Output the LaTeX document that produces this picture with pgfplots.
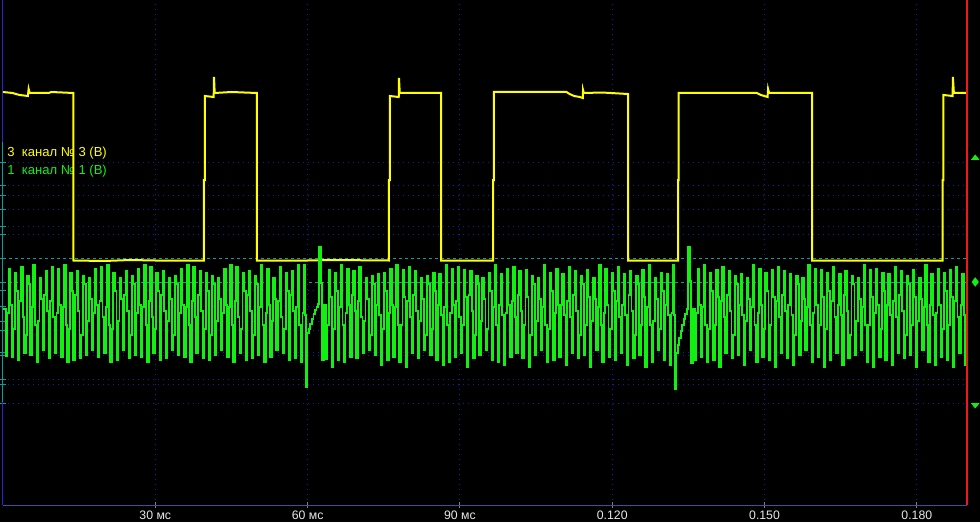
\documentclass[border=0pt]{standalone}
\usepackage{fontspec}
\setmainfont{Liberation Sans}
\usepackage{pgfplots}
\pgfplotsset{compat=1.18}
\definecolor{chthree}{HTML}{FFFF00}
\definecolor{chone}{HTML}{12F012}
\definecolor{griddot}{HTML}{1818B4}
\definecolor{zeroline}{HTML}{109A9A}
\definecolor{axblue}{HTML}{2424D8}
\definecolor{baseblue}{HTML}{4848A4}
\definecolor{cursor}{HTML}{F01818}
\definecolor{ticklbl}{HTML}{E8E8E8}
\begin{document}
\begin{tikzpicture}
\fill[black] (0,0) rectangle (735pt,391.5pt);
\begin{axis}[
  at={(2.25pt,12.75pt)}, anchor=south west,
  scale only axis, width=722.8pt, height=378.75pt,
  xmin=0, xmax=189.83, ymin=0, ymax=505,
  clip=false,
  axis x line*=bottom, axis y line*=left,
  x axis line style={baseblue, line width=0.75pt, -},
  y axis line style={axblue, line width=0.75pt, -},
  xtick={30,60,90,120,150,180},
  xticklabels={30 мс,60 мс,90 мс,0.120,0.150,0.180},
  ytick={102,121,126,150,153,175,184,199,215,271,279,296,310,320,343},
  yticklabels={},
  extra y ticks={223,247},
  extra y tick labels={},
  extra y tick style={grid style={zeroline, line width=0.75pt, dash pattern=on 2.25pt off 2.25pt}},
  xmajorgrids, ymajorgrids,
  grid style={griddot, line width=0.75pt, dash pattern=on 0.75pt off 3pt},
  tick align=center,
  major tick length=4.5pt,
  xtick style={gray, line width=0.75pt},
  ytick style={zeroline, line width=0.75pt},
  xticklabel style={font=\fontsize{9.2}{10}\selectfont, text=ticklbl, yshift=1.2pt},
]
% channel captions
\node[anchor=west, inner sep=0pt, text=chthree, font=\fontsize{9.8}{11}\selectfont] at (axis cs:0.8,351.5) {3\ \ канал № 3 (В)};
\node[anchor=west, inner sep=0pt, text=chone, font=\fontsize{9.8}{11}\selectfont] at (axis cs:0.8,333.7) {1\ \ канал № 1 (В)};

% teal part of the left axis
\draw[zeroline, line width=0.75pt] (axis cs:0,103) -- (axis cs:0,363);

% channel 3 (cam)
\addplot[chthree, line width=1.5pt] coordinates {
(0,413)(1.9,412)(2.5,411)(3.3,410)(4.9,409)(5.05,416)(5.25,412)(9,412)(9.5,413)(13.85,412)
(13.85,244.5)(20,244)(25,245)(30,244.5)(39.59,244.5)
(39.59,325)(39.75,325)(39.75,409)(41.5,408)(41.56,428)(41.7,412)(45,413)(50.03,412)
(50.03,244.5)(60,244.5)(65,245)(76.03,244.5)
(76.03,325)(76.2,325)(76.2,409)(77.95,408)(78.0,427)(78.15,412)(86.28,412)
(86.28,244.5)(96.52,244.5)
(96.52,325)(96.7,325)(96.7,413)(105,413)(111.0,413)(111.6,411)(112.5,409)(113.6,408)(114.2,407)(114.25,415)(114.4,412)(118,412.5)(123.11,411)
(123.11,244.5)(132.96,244.5)
(132.96,325)(133.1,325)(133.1,412)(148.5,412)(149.3,410)(150.6,408)(150.7,416)(150.9,412)(159.36,412)
(159.36,244.5)(170,244.5)(185.06,244.5)
(185.06,325)(185.25,325)(185.25,410)(187.05,409)(187.1,428)(187.3,412)(189.83,412)
};

% channel 1 (crank, 60-2)
\addplot[chone, line width=1.4pt, const plot mark left] coordinates {
(0,196)(0.54,149)
(0.84,192)(1.14,236)(1.44,200)(1.75,148)
(2.05,176)(2.35,232)(2.65,214)(2.96,145)
(3.26,204)(3.56,238)(3.86,188)(4.17,152)
(4.47,170)(4.77,229)(5.07,221)(5.38,150)
(5.69,198)(5.99,240)(6.29,180)(6.60,143)
(6.90,184)(7.20,227)(7.50,206)(7.81,155)
(8.11,210)(8.41,234)(8.71,194)(9.02,147)
(9.32,204)(9.62,238)(9.92,188)(10.23,152)
(10.53,192)(10.83,236)(11.13,200)(11.44,148)
(11.74,198)(12.04,240)(12.34,180)(12.65,143)
(12.96,176)(13.26,232)(13.56,214)(13.87,145)
(14.17,210)(14.47,234)(14.77,194)(15.08,147)
(15.38,170)(15.68,229)(15.98,221)(16.29,150)
(16.59,184)(16.89,227)(17.19,206)(17.50,155)
(17.80,192)(18.10,236)(18.40,200)(18.71,148)
(19.01,204)(19.31,238)(19.61,188)(19.92,152)
(20.22,198)(20.52,240)(20.82,180)(21.13,143)
(21.44,176)(21.74,232)(22.04,214)(22.35,145)
(22.65,184)(22.95,227)(23.25,206)(23.56,155)
(23.86,210)(24.16,234)(24.46,194)(24.77,147)
(25.07,170)(25.37,229)(25.67,221)(25.98,150)
(26.28,192)(26.58,236)(26.88,200)(27.19,148)
(27.49,198)(27.79,240)(28.09,180)(28.40,143)
(28.70,204)(29.00,238)(29.30,188)(29.61,152)
(29.92,176)(30.22,232)(30.52,214)(30.83,145)
(31.13,210)(31.43,234)(31.73,194)(32.04,147)
(32.34,184)(32.64,227)(32.94,206)(33.25,155)
(33.55,170)(33.85,229)(34.15,221)(34.46,150)
(34.76,192)(35.06,236)(35.36,200)(35.67,148)
(35.97,198)(36.27,240)(36.57,180)(36.88,143)
(37.19,204)(37.49,238)(37.79,188)(38.10,152)
(38.40,210)(38.70,234)(39.00,194)(39.31,147)
(39.61,176)(39.91,232)(40.21,214)(40.52,145)
(40.82,170)(41.12,229)(41.42,221)(41.73,150)
(42.03,184)(42.33,227)(42.63,206)(42.94,155)
(43.24,192)(43.54,236)(43.84,200)(44.15,148)
(44.45,198)(44.75,240)(45.05,180)(45.36,143)
(45.67,204)(45.97,238)(46.27,188)(46.58,152)
(46.88,176)(47.18,232)(47.48,214)(47.79,145)
(48.09,210)(48.39,234)(48.69,194)(49.00,147)
(49.30,170)(49.60,229)(49.90,221)(50.21,150)
(50.51,198)(50.81,240)(51.11,180)(51.42,143)
(51.72,192)(52.02,236)(52.32,200)(52.63,148)
(52.93,184)(53.23,227)(53.53,206)(53.84,155)
(54.15,204)(54.45,238)(54.75,188)(55.06,152)
(55.36,176)(55.66,232)(55.96,214)(56.27,145)
(56.57,210)(56.87,234)(57.17,194)(57.48,147)
(57.78,198)(58.08,240)(58.38,180)(58.69,143)
(58.99,192)(59.29,240)
(59.55,190)(59.68,118)(59.90,172)(60.25,176)(60.55,181)(60.85,186)(61.15,191)(61.45,195)(61.75,198)(62.00,201)
(62.25,258)(62.60,222)(62.85,145)(63.25,200)(63.55,146)
(63.84,180)(64.14,235)(64.44,208)(64.75,138)
(65.05,176)(65.35,232)(65.65,214)(65.96,145)
(66.26,198)(66.56,240)(66.86,180)(67.17,143)
(67.47,192)(67.77,236)(68.07,200)(68.38,148)
(68.69,210)(68.99,234)(69.29,194)(69.60,147)
(69.90,204)(70.20,238)(70.50,188)(70.81,152)
(71.11,184)(71.41,227)(71.71,206)(72.02,155)
(72.32,170)(72.62,229)(72.92,221)(73.23,150)
(73.53,200)(73.83,231)(74.13,190)(74.44,140)
(74.74,176)(75.04,232)(75.34,214)(75.65,145)
(75.96,192)(76.26,236)(76.56,200)(76.87,148)
(77.17,198)(77.47,240)(77.77,180)(78.08,143)
(78.38,180)(78.68,235)(78.98,208)(79.29,138)
(79.59,204)(79.89,238)(80.19,188)(80.50,152)
(80.80,210)(81.10,234)(81.40,194)(81.71,147)
(82.01,184)(82.31,227)(82.61,206)(82.92,155)
(83.22,170)(83.52,229)(83.82,221)(84.13,150)
(84.44,176)(84.74,232)(85.04,214)(85.35,145)
(85.65,200)(85.95,231)(86.25,190)(86.56,140)
(86.86,198)(87.16,240)(87.46,180)(87.77,143)
(88.07,192)(88.37,236)(88.67,200)(88.98,148)
(89.28,204)(89.58,238)(89.88,188)(90.19,152)
(90.49,180)(90.79,235)(91.09,208)(91.40,138)
(91.70,210)(92.00,234)(92.30,194)(92.61,147)
(92.92,170)(93.22,229)(93.52,221)(93.83,150)
(94.13,184)(94.43,227)(94.73,206)(95.04,155)
(95.34,176)(95.64,232)(95.94,214)(96.25,145)
(96.55,198)(96.85,240)(97.15,180)(97.46,143)
(97.76,200)(98.06,231)(98.36,190)(98.67,140)
(98.97,192)(99.27,236)(99.57,200)(99.88,148)
(100.19,204)(100.49,238)(100.79,188)(101.10,152)
(101.40,210)(101.70,234)(102.00,194)(102.31,147)
(102.61,180)(102.91,235)(103.21,208)(103.52,138)
(103.82,170)(104.12,229)(104.42,221)(104.73,150)
(105.03,184)(105.33,227)(105.63,206)(105.94,155)
(106.24,198)(106.54,240)(106.84,180)(107.15,143)
(107.45,176)(107.75,232)(108.05,214)(108.36,145)
(108.67,192)(108.97,236)(109.27,200)(109.58,148)
(109.88,200)(110.18,231)(110.48,190)(110.79,140)
(111.09,204)(111.39,238)(111.69,188)(112.00,152)
(112.30,210)(112.60,234)(112.90,194)(113.21,147)
(113.51,170)(113.81,229)(114.11,221)(114.42,150)
(114.72,180)(115.02,235)(115.32,208)(115.63,138)
(115.93,184)(116.23,227)(116.53,206)(116.84,155)
(117.15,198)(117.45,240)(117.75,180)(118.06,143)
(118.36,192)(118.66,236)(118.96,200)(119.27,148)
(119.57,176)(119.87,232)(120.17,214)(120.48,145)
(120.78,204)(121.08,238)(121.38,188)(121.69,152)
(121.99,200)(122.29,231)(122.59,190)(122.90,140)
(123.20,210)(123.50,234)(123.80,194)(124.11,147)
(124.42,170)(124.72,229)(125.02,221)(125.33,150)
(125.63,180)(125.93,235)(126.23,208)(126.54,138)
(126.84,198)(127.14,240)(127.44,180)(127.75,143)
(128.05,184)(128.35,227)(128.65,206)(128.96,155)
(129.26,176)(129.56,232)(129.86,214)(130.17,145)
(130.47,200)(130.77,231)(131.07,190)(131.38,140)
(131.68,192)(131.98,240)
(132.24,190)(132.37,116)(132.60,152)(132.90,160)(133.20,167)(133.50,174)(133.80,180)(134.10,186)(134.40,191)(134.70,196)
(135.00,258)(135.35,224)(135.60,142)(135.95,196)(136.25,145)
(136.53,192)(136.83,236)(137.13,200)(137.44,148)
(137.74,198)(138.04,240)(138.34,180)(138.65,143)
(138.95,176)(139.25,232)(139.55,214)(139.86,145)
(140.16,180)(140.46,235)(140.76,208)(141.07,138)
(141.38,204)(141.68,238)(141.98,188)(142.29,152)
(142.59,210)(142.89,234)(143.19,194)(143.50,147)
(143.80,170)(144.10,229)(144.40,221)(144.71,150)
(145.01,200)(145.31,231)(145.61,190)(145.92,140)
(146.22,184)(146.52,227)(146.82,206)(147.13,155)
(147.43,198)(147.73,240)(148.03,180)(148.34,143)
(148.65,192)(148.95,236)(149.25,200)(149.56,148)
(149.86,176)(150.16,232)(150.46,214)(150.77,145)
(151.07,180)(151.37,235)(151.67,208)(151.98,138)
(152.28,204)(152.58,238)(152.88,188)(153.19,152)
(153.49,210)(153.79,234)(154.09,194)(154.40,147)
(154.70,200)(155.00,231)(155.30,190)(155.61,140)
(155.91,170)(156.21,229)(156.51,221)(156.82,150)
(157.13,184)(157.43,227)(157.73,206)(158.04,155)
(158.34,198)(158.64,240)(158.94,180)(159.25,143)
(159.55,192)(159.85,236)(160.15,200)(160.46,148)
(160.76,180)(161.06,235)(161.36,208)(161.67,138)
(161.97,176)(162.27,232)(162.57,214)(162.88,145)
(163.18,204)(163.48,238)(163.78,188)(164.09,152)
(164.39,200)(164.69,231)(164.99,190)(165.30,140)
(165.61,210)(165.91,234)(166.21,194)(166.52,147)
(166.82,170)(167.12,229)(167.42,221)(167.73,150)
(168.03,184)(168.33,227)(168.63,206)(168.94,155)
(169.24,198)(169.54,240)(169.84,180)(170.15,143)
(170.45,180)(170.75,235)(171.05,208)(171.36,138)
(171.66,192)(171.96,236)(172.26,200)(172.57,148)
(172.88,176)(173.18,232)(173.48,214)(173.79,145)
(174.09,200)(174.39,231)(174.69,190)(175.00,140)
(175.30,204)(175.60,238)(175.90,188)(176.21,152)
(176.51,210)(176.81,234)(177.11,194)(177.42,147)
(177.72,170)(178.02,229)(178.32,221)(178.63,150)
(178.93,180)(179.23,235)(179.53,208)(179.84,138)
(180.14,184)(180.44,227)(180.74,206)(181.05,155)
(181.36,198)(181.66,240)(181.96,180)(182.27,143)
(182.57,200)(182.87,231)(183.17,190)(183.48,140)
(183.78,192)(184.08,236)(184.38,200)(184.69,148)
(184.99,176)(185.29,232)(185.59,214)(185.90,145)
(186.20,180)(186.50,235)(186.80,208)(187.11,138)
(187.41,204)(187.71,238)(188.01,188)(188.32,152)
(188.62,200)(188.92,231)(189.22,190)(189.53,140)
(189.83,190)
};

% cursor line and channel markers on the right
\draw[cursor, line width=1.5pt] (rel axis cs:1,0) -- (rel axis cs:1,1);
\addplot[only marks, chone, mark=triangle*, mark size=3.2pt, mark options={yscale=0.7}] coordinates {(191.5,347)};
\addplot[only marks, chone, mark=diamond*, mark size=3.2pt] coordinates {(191.5,223)};
\addplot[only marks, chone, mark=triangle*, mark size=3.2pt, mark options={yscale=-0.7}] coordinates {(191.5,100)};
\end{axis}
\pgfresetboundingbox
\path[use as bounding box] (0,0) rectangle (735pt,391.5pt);
\end{tikzpicture}
\end{document}
